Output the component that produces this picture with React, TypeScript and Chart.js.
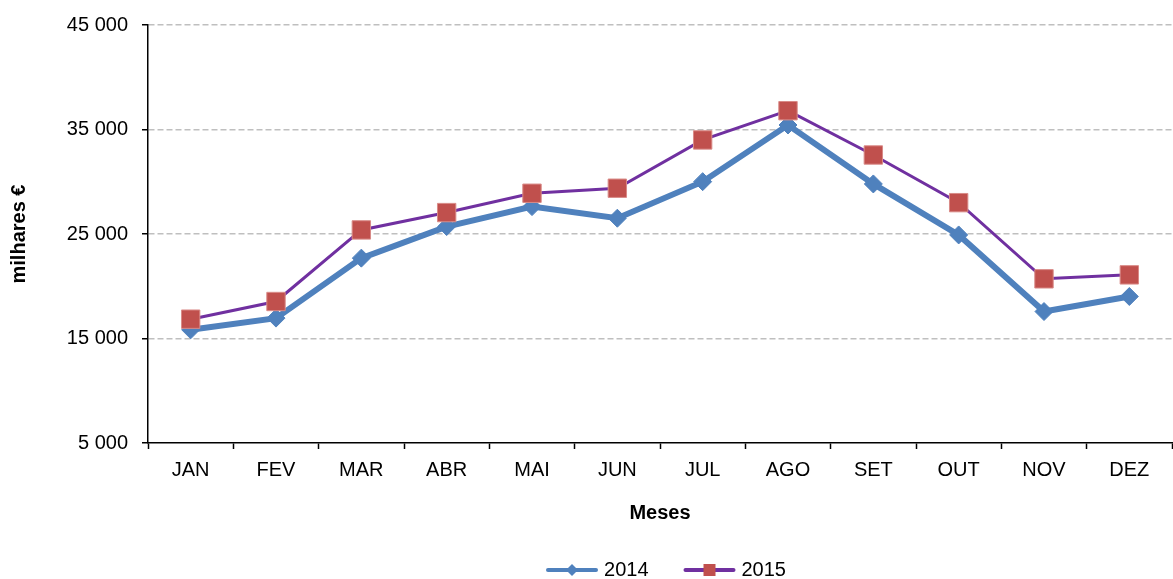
import React, { useEffect, useRef } from "react";
import { Chart, registerables } from "chart.js";

Chart.register(...registerables);

const months = ["JAN", "FEV", "MAR", "ABR", "MAI", "JUN", "JUL", "AGO", "SET", "OUT", "NOV", "DEZ"];
const values2014 = [15830, 16950, 22690, 25710, 27620, 26510, 30010, 35430, 29790, 24910, 17580, 19020];
const values2015 = [16850, 18540, 25390, 27050, 28900, 29380, 34000, 36800, 32560, 28000, 20710, 21090];
const seriesLabels = ["2014", "2015"];
const yMin = 5000;
const yMax = 45000;
const yStep = 10000;

const FONT = "'Liberation Sans', Arial, sans-serif";

const fmt = (v: number) => {
  const s = Math.round(v).toString();
  return s.replace(/\B(?=(\d{3})+(?!\d))/g, " ");
};

const legendPlugin = {
  id: "customLegend",
  afterDraw(chart: any) {
    const ctx = chart.ctx;
    const ds = chart.data.datasets;
    ctx.save();
    ctx.font = `20px ${FONT}`;
    const lineW = 52;
    const gapText = 6;
    const gapItem = 35;
    const widths = ds.map((d: any) => lineW + gapText + ctx.measureText(d.label).width);
    const total = widths.reduce((a: number, b: number) => a + b, 0) + gapItem * (ds.length - 1);
    const ca = chart.chartArea;
    let x = (ca.left + ca.right) / 2 + 6 - total / 2;
    const y = 570;
    ds.forEach((d: any, i: number) => {
      ctx.strokeStyle = d.borderColor;
      ctx.lineWidth = 4;
      ctx.lineCap = "round";
      ctx.beginPath();
      ctx.moveTo(x + 2, y);
      ctx.lineTo(x + lineW - 2, y);
      ctx.stroke();
      const cx = x + lineW / 2;
      ctx.fillStyle = d.pointBackgroundColor;
      if (d.pointStyle === "rectRot") {
        const r = 6;
        ctx.beginPath();
        ctx.moveTo(cx - r, y);
        ctx.lineTo(cx, y - r);
        ctx.lineTo(cx + r, y);
        ctx.lineTo(cx, y + r);
        ctx.closePath();
        ctx.fill();
      } else {
        const s = 12;
        ctx.fillRect(cx - s / 2, y - s / 2, s, s);
      }
      ctx.fillStyle = "#000";
      ctx.textBaseline = "middle";
      ctx.textAlign = "left";
      ctx.fillText(d.label, x + lineW + gapText, y);
      x += widths[i] + gapItem;
    });
    ctx.restore();
  },
};

export default function App() {
  const ref = useRef<HTMLCanvasElement>(null);

  useEffect(() => {
    if (!ref.current) return;
    const chart = new Chart(ref.current, {
      type: "line",
      data: {
        labels: months,
        datasets: [
          {
            label: seriesLabels[0],
            data: values2014,
            borderColor: "#4F81BD",
            backgroundColor: "#4F81BD",
            borderWidth: 6,
            pointStyle: "rectRot",
            pointRadius: 9,
            pointBackgroundColor: "#4F81BD",
            pointBorderColor: "#4F81BD",
            pointBorderWidth: 1,
            tension: 0,
            order: 1,
          },
          {
            label: seriesLabels[1],
            data: values2015,
            borderColor: "#7030A0",
            backgroundColor: "#C0504D",
            borderWidth: 3,
            pointStyle: "rect",
            pointRadius: 13,
            pointBackgroundColor: "#C0504D",
            pointBorderColor: "#D98B88",
            pointBorderWidth: 1,
            tension: 0,
            order: 0,
          },
        ],
      },
      options: {
        animation: false,
        responsive: false,
        maintainAspectRatio: false,
        devicePixelRatio: 1,
        layout: { autoPadding: false, padding: { top: 25, right: 1, bottom: 54, left: 0 } },
        font: { family: FONT },
        plugins: {
          legend: { display: false },
          tooltip: { enabled: false },
        },
        scales: {
          x: {
            type: "category",
            offset: true,
            grid: {
              offset: true,
              drawOnChartArea: false,
              drawTicks: true,
              tickLength: 6,
              tickColor: "#000",
              tickWidth: 1.5,
            },
            border: { display: true, color: "#000", width: 1.5 },
            ticks: {
              color: "#000",
              font: { family: FONT, size: 20 },
              padding: 9,
              maxRotation: 0,
              autoSkip: false,
            },
            title: {
              display: true,
              text: "Meses",
              color: "#000",
              font: { family: FONT, size: 20, weight: "bold" },
              padding: { top: 0, bottom: 0 },
            },
            afterFit(scale: any) {
              scale.height = 82;
              scale.paddingLeft = 0;
              scale.paddingRight = 0;
            },
          },
          y: {
            min: yMin,
            max: yMax,
            grid: {
              color: (c: any) => (c.tick && c.tick.value === yMin ? "rgba(0,0,0,0)" : "#BFBFBF"),
              lineWidth: 1.5,
              drawTicks: true,
              tickLength: 6,
              tickColor: "#000",
              tickWidth: 1.5,
              tickBorderDash: [],
            },
            border: { display: true, color: "#000", width: 1.5, dash: [6, 3] },
            ticks: {
              stepSize: yStep,
              color: "#000",
              font: { family: FONT, size: 20 },
              padding: 14,
              callback: (v: any) => fmt(Number(v)),
            },
            title: {
              display: true,
              text: "milhares €",
              color: "#000",
              font: { family: FONT, size: 20, weight: "bold" },
              padding: { top: 7, bottom: 0 },
            },
            afterFit(scale: any) {
              scale.width = 148;
              scale.paddingTop = 0;
              scale.paddingBottom = 0;
            },
          },
        },
      },
      plugins: [legendPlugin],
    } as any);
    return () => chart.destroy();
  }, []);

  return (
    <div style={{ position: "absolute", left: 0, top: 0, width: 1173, height: 579, background: "#fff" }}>
      <canvas ref={ref} width={1173} height={579} style={{ display: "block", width: 1173, height: 579 }} />
    </div>
  );
}
